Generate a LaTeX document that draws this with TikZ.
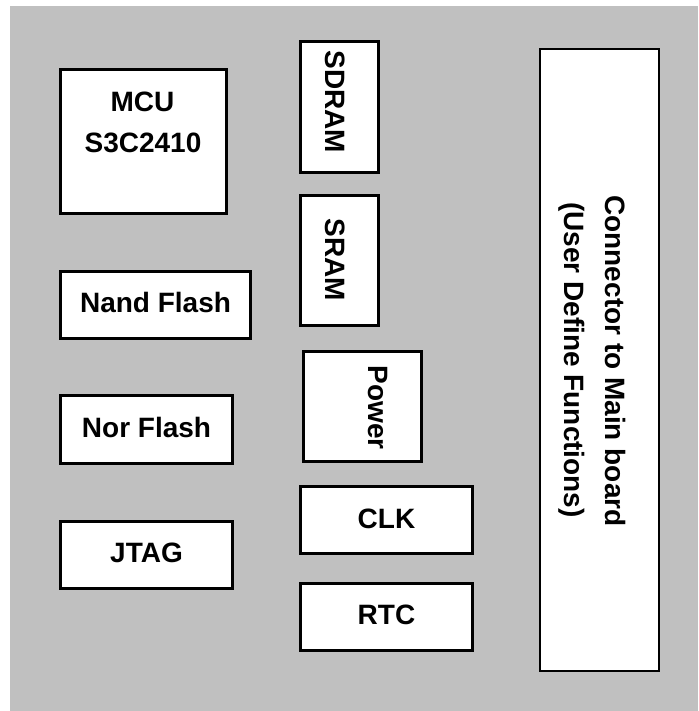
\documentclass[tikz,border=0pt]{standalone}
\usepackage{fontspec}
\setmainfont{Liberation Sans}
\begin{document}
\begin{tikzpicture}[x=1pt,y=-1pt,
  box/.style={draw=black, fill=white, line width=2.6pt, inner sep=0pt},
  lbl/.style={font=\fontsize{28}{40}\selectfont\bfseries, inner sep=0pt, anchor=base},
  vlbl/.style={lbl, rotate=-90}]
\useasboundingbox (0,0) rectangle (698,711);
\fill[fill={rgb,255:red,192;green,192;blue,192}] (10,6) rectangle (698,711);
% boxes
\node[box, minimum width=166.5pt, minimum height=144.5pt] (mcu) at (143.5,141.5) {};
\node[box, minimum width=78.5pt, minimum height=131.5pt] (sdram) at (339.5,107) {};
\node[box, minimum width=78.5pt, minimum height=130.5pt] (sram) at (339.5,260.5) {};
\node[box, minimum width=190.5pt, minimum height=67.5pt] (nand) at (155.5,305) {};
\node[box, minimum width=172.5pt, minimum height=68.5pt] (nor) at (146.5,429.5) {};
\node[box, minimum width=172.5pt, minimum height=67.5pt] (jtag) at (146.5,555) {};
\node[box, minimum width=118.5pt, minimum height=110.5pt] (power) at (362.5,406.5) {};
\node[box, minimum width=172.5pt, minimum height=67.5pt] (clk) at (386.5,520) {};
\node[box, minimum width=172.5pt, minimum height=67.5pt] (rtc) at (386.5,617) {};
\node[box, line width=2pt, minimum width=119pt, minimum height=622pt] (conn) at (599.5,360) {};
% labels
\node[lbl] (mcut1) at (142.5,112) {MCU};
\node[lbl] (mcut2) at (143,153) {S3C2410};
\node[lbl] (nandt) at (155.5,312) {Nand Flash};
\node[lbl] (nort) at (146.5,437) {Nor Flash};
\node[lbl] (jtagt) at (146.5,562) {JTAG};
\node[lbl] (clkt) at (386.5,528) {CLK};
\node[lbl] (rtct) at (386.5,624) {RTC};
\node[vlbl] (sdramt) at (325,102) {SDRAM};
\node[vlbl] (sramt) at (325,260) {SRAM};
\node[vlbl] (powert) at (368,407.5) {Power};
\node[vlbl] (connt1) at (605,361) {Connector to Main board};
\node[vlbl] (connt2) at (564,360) {(User Define Functions)};
\end{tikzpicture}
\end{document}
